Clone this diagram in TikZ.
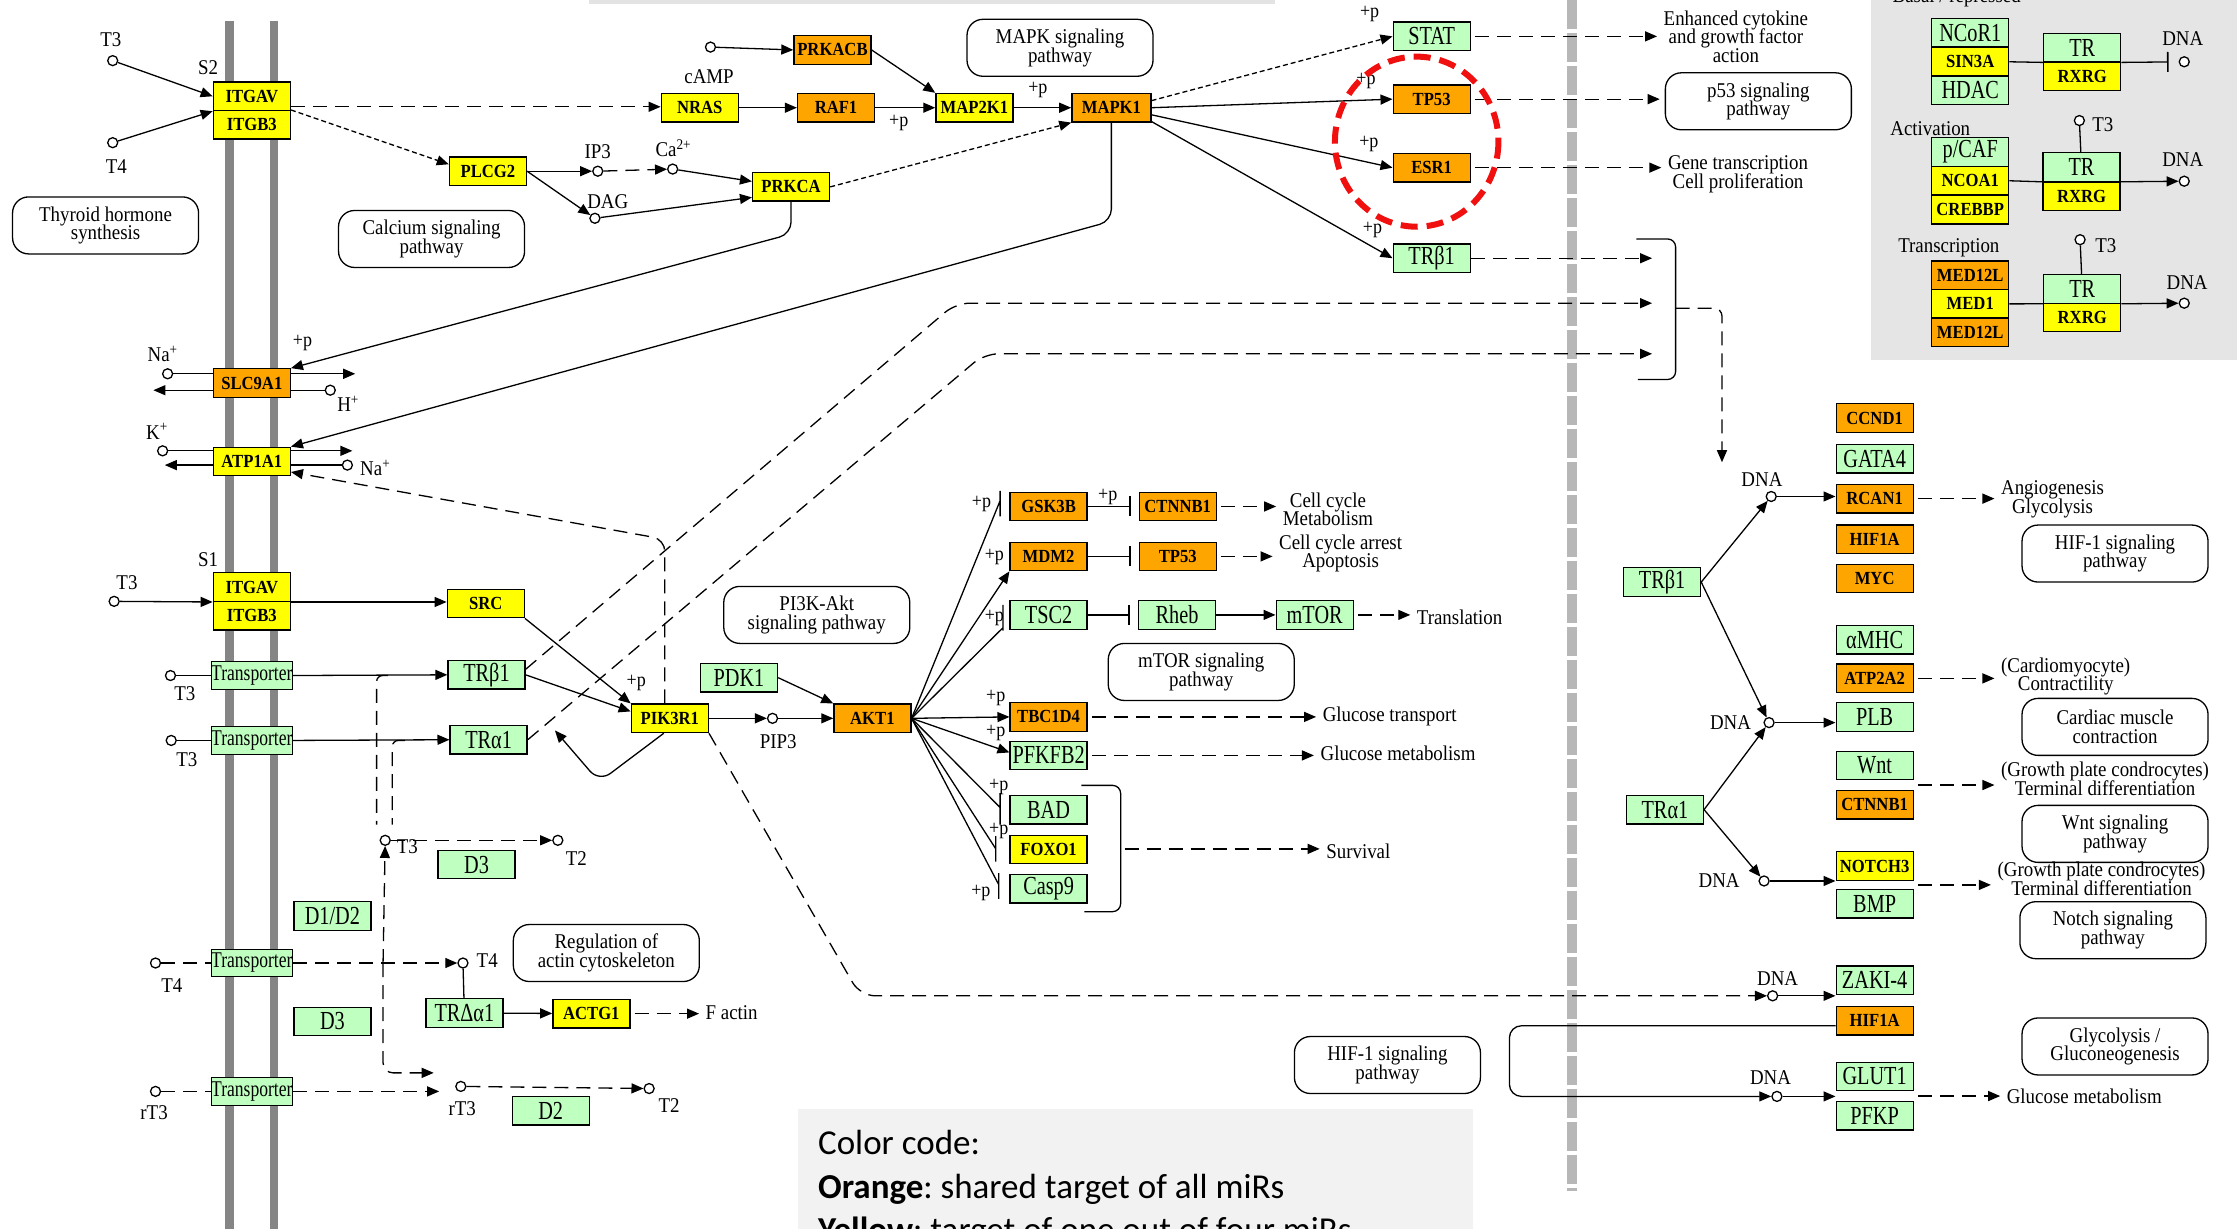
\documentclass[tikz,border=0pt]{standalone}
\usepackage{fontspec}
\setmainfont{Liberation Serif}[FakeStretch=0.9]
\newfontfamily\gfont{Liberation Serif}[FakeStretch=0.78]
\newfontfamily\codefont{Carlito}
\usetikzlibrary{arrows.meta,calc}

\definecolor{kora}{HTML}{FFA500}
\definecolor{kyel}{HTML}{FFFF00}
\definecolor{kgrn}{HTML}{BFFFBF}
\definecolor{kmem}{HTML}{858585}
\definecolor{kbar}{HTML}{B7B7B7}
\definecolor{kpanel}{HTML}{E5E5E5}
\definecolor{kcode}{HTML}{F2F2F2}
\definecolor{kstrip}{HTML}{E3E3E3}
\definecolor{kred}{HTML}{F01010}

\tikzset{
  gene/.style={draw, line width=1.3pt, minimum width=77pt, minimum height=28.5pt, inner sep=0pt},
  org/.style={gene, fill=kora, font=\fontsize{18.5}{18.5}\selectfont\bfseries},
  yel/.style={gene, fill=kyel, font=\fontsize{18.5}{18.5}\selectfont\bfseries},
  grn/.style={gene, fill=kgrn, font=\gfont\fontsize{26}{26}\selectfont},
  trsp/.style={grn, font=\gfont\fontsize{22.5}{22.5}\selectfont, minimum height=27.5pt},
  pw/.style={draw, line width=1.3pt, rounded corners=16pt, minimum width=186pt, minimum height=57pt, inner sep=0pt, align=center, font=\fontsize{21}{18.5}\selectfont},
  cpd/.style={circle, draw, fill=white, line width=1.3pt, minimum size=10pt, inner sep=0pt},
  lbl/.style={inner sep=1pt, align=center, font=\fontsize{21}{18.5}\selectfont},
  pp/.style={inner sep=0pt, font=\fontsize{20}{20}\selectfont},
  cc/.style={anchor=base west, inner sep=0pt, font=\codefont\fontsize{35}{35}\selectfont},
  dsh/.style={dash pattern=on 14pt off 8pt},
  fdsh/.style={dash pattern=on 5pt off 3pt},
  inh/.style={-{Bar[width=20pt,line width=1.6pt]}},
  outarr/.style={dsh, ->, shorten >=5pt, shorten <=4pt},
}

\begin{document}
\setlength{\lineskiplimit}{-6pt}
\frenchspacing
\begin{tikzpicture}[x=1.4267pt, y=-1.4267pt, line width=1.3pt, >={Triangle[length=12pt,width=10pt]}]
\useasboundingbox (0,0) rectangle (1568,861);

\fill[kstrip] (413,0) rectangle (894,2.5);
\fill[kpanel] (1311.5,-5) rectangle (1575,252);
\fill[kcode] (559,777.5) rectangle (1032.5,870);
\draw[kmem, line width=8.5pt] (161,14.5) -- (161,870);
\draw[kmem, line width=8.5pt] (192,14.5) -- (192,870);
\draw[kbar, line width=10pt, dash pattern=on 29pt off 4pt] (1102,0) -- (1102,835);

\node[pw] (thyrpw) at (74,158) {Thyroid hormone\\synthesis};
\node[pw] (calcpw) at (302.5,167.5) {Calcium signaling\\pathway};
\node[pw] (mapkpw) at (743,33.5) {MAPK signaling\\pathway};
\node[pw] (p53pw) at (1232.5,71) {p53 signaling\\pathway};
\node[pw] (pi3kpw) at (572.5,431) {PI3K-Akt\\signaling pathway};
\node[pw] (mtorpw) at (842,471) {mTOR signaling\\pathway};
\node[pw] (actinpw) at (425,668) {Regulation of\\actin cytoskeleton};
\node[pw] (hifpw1) at (972.5,746.5) {HIF-1 signaling\\pathway};
\node[pw] (hifpw2) at (1482.5,388) {HIF-1 signaling\\pathway};
\node[pw] (cardpw) at (1482.5,509.5) {Cardiac muscle\\contraction};
\node[pw] (wntpw) at (1482.5,584.5) {Wnt signaling\\pathway};
\node[pw] (notchpw) at (1481,652) {Notch signaling\\pathway};
\node[pw] (glycpw) at (1482.5,733.5) {Glycolysis /\\Gluconeogenesis};

\node[yel] (itgav2) at (176.5,67.5) {ITGAV};
\node[yel] (itgb2) at (176.5,87.5) {ITGB3};
\node[org] (slc) at (176.5,268.5) {SLC9A1};
\node[yel] (atp1) at (176.5,323.5) {ATP1A1};
\node[yel] (itgav1) at (176.5,411.5) {ITGAV};
\node[yel] (itgb1) at (176.5,431.5) {ITGB3};
\node[trsp] (trp1) at (176.5,473.5) {Transporter};
\node[trsp] (trp2) at (176.5,519) {Transporter};
\node[trsp] (trp3) at (176.5,675) {Transporter};
\node[trsp] (trp4) at (176.5,765) {Transporter};

\node[yel] (nras) at (490.5,75.5) {NRAS};
\node[org] (prkacb) at (583.5,35) {PRKACB};
\node[org] (raf) at (586,75.5) {RAF1};
\node[yel] (map2k) at (683,75.5) {MAP2K1};
\node[org, minimum width=79pt] (mapk) at (779,75.5) {MAPK1};
\node[yel] (plcg) at (342,120) {PLCG2};
\node[yel] (prkca) at (554.5,131) {PRKCA};
\node[grn] (stat) at (1003.5,25.5) {STAT};
\node[org] (p53a) at (1003.5,69.5) {TP53};
\node[org] (esr) at (1003.5,117.5) {ESR1};
\node[grn] (trb3) at (1003.5,181) {TRβ1};

\node[yel] (src) at (340.5,423) {SRC};
\node[grn] (trb1) at (341,473) {TRβ1};
\node[grn] (tra1) at (342.5,518.5) {TRα1};
\node[yel] (pik) at (469.5,503.5) {PIK3R1};
\node[grn] (pdk) at (518,475) {PDK1};
\node[org] (akt) at (611.5,503.5) {AKT1};
\node[org] (gsk) at (735,355) {GSK3B};
\node[org] (ctnb1) at (825.5,355) {CTNNB1};
\node[org] (mdm) at (735,390) {MDM2};
\node[org] (p53b) at (825.5,390) {TP53};
\node[grn] (tsc) at (735,431) {TSC2};
\node[grn] (rheb) at (825,431) {Rheb};
\node[grn] (mtor) at (921.5,431) {mTOR};
\node[org] (tbc) at (735,502.5) {TBC1D4};
\node[grn] (pfk) at (735,529.5) {PFKFB2};
\node[grn] (bad) at (735,567.5) {BAD};
\node[yel] (foxo) at (735,595.5) {FOXO1};
\node[grn] (casp) at (735,623) {Casp9};

\node[grn] (d3a) at (334,606) {D3};
\node[grn] (d12) at (233,642) {D1/D2};
\node[grn] (d3b) at (233,716) {D3};
\node[grn] (trd) at (325.5,710) {TRΔα1};
\node[yel] (actg) at (414.5,710.5) {ACTG1};
\node[grn] (d2) at (386,778.5) {D2};

\node[org] (ccnd) at (1314,293) {CCND1};
\node[grn] (gata) at (1314,321.5) {GATA4};
\node[org] (rcan) at (1314,349.5) {RCAN1};
\node[org] (hif1a) at (1314,378) {HIF1A};
\node[org] (myc) at (1314,405.5) {MYC};
\node[grn] (amhc) at (1314,448.5) {αMHC};
\node[org] (atp2) at (1314,475.5) {ATP2A2};
\node[grn] (plb) at (1314,502.5) {PLB};
\node[grn] (wnt) at (1314,536.5) {Wnt};
\node[org] (ctnb2) at (1314,564) {CTNNB1};
\node[yel] (notch) at (1314,607) {NOTCH3};
\node[grn] (bmp) at (1314,633.5) {BMP};
\node[grn] (zaki) at (1314,687) {ZAKI-4};
\node[org] (hif1b) at (1314,715.5) {HIF1A};
\node[grn] (glut) at (1314,754.5) {GLUT1};
\node[grn] (pfkp) at (1314,782) {PFKP};
\node[grn] (trb2) at (1165,408) {TRβ1};
\node[grn] (tra2) at (1167,567.5) {TRα1};

\node[grn] (ncor) at (1381,23) {NCoR1};
\node[yel] (sin3a) at (1381,43.3) {SIN3A};
\node[grn] (hdac) at (1381,63.3) {HDAC};
\node[grn] (tr1) at (1459.5,33.3) {TR};
\node[yel] (rxr1) at (1459.5,53.5) {RXRG};
\node[grn] (pcaf) at (1381,106.5) {p/CAF};
\node[yel] (ncoa) at (1381,126.7) {NCOA1};
\node[yel] (creb) at (1381,147) {CREBBP};
\node[grn] (tr2) at (1459,117) {TR};
\node[yel] (rxr2) at (1459,137.5) {RXRG};
\node[org] (med12a) at (1381,193) {MED12L};
\node[yel] (med1) at (1381,213) {MED1};
\node[org] (med12b) at (1381,233) {MED12L};
\node[grn] (tr3) at (1459.5,202.5) {TR};
\node[yel] (rxr3) at (1459.5,222.5) {RXRG};

\node[cpd] (t3a) at (79,42.5) {};
\node[cpd] (t4a) at (79,100) {};
\node[cpd] (camp) at (498,33) {};
\node[cpd] (ip3) at (419,120) {};
\node[cpd] (ca) at (471.5,118.5) {};
\node[cpd] (dag) at (417,153) {};
\node[cpd] (na1) at (117.5,262) {};
\node[cpd] (hh) at (231.5,273.5) {};
\node[cpd] (kk) at (114,316) {};
\node[cpd] (na2) at (243.5,326) {};
\node[cpd] (t3b) at (80,421.5) {};
\node[cpd] (t3c) at (119.5,473.5) {};
\node[cpd] (t3d) at (120,519) {};
\node[cpd] (t3e) at (270,589) {};
\node[cpd] (t2a) at (391,589) {};
\node[cpd] (t4b) at (109,675) {};
\node[cpd] (t4c) at (324.5,675) {};
\node[cpd] (rt3a) at (109,765) {};
\node[cpd] (rt3b) at (323,761.5) {};
\node[cpd] (t2b) at (455,763) {};
\node[cpd] (pip) at (541.5,503.5) {};
\node[cpd] (dna1) at (1241.5,348) {};
\node[cpd] (dna2) at (1240,506.5) {};
\node[cpd] (dna3) at (1236.5,617.5) {};
\node[cpd] (dna4) at (1242.5,698) {};
\node[cpd] (dna5) at (1245.5,768.5) {};
\node[cpd] (dnaP1) at (1531,43.3) {};
\node[cpd] (t3p2) at (1457.5,84.5) {};
\node[cpd] (dnaP2) at (1531,127) {};
\node[cpd] (t3p3) at (1458,168) {};
\node[cpd] (dnaP3) at (1531,212.5) {};

\node[lbl] (lt3a) at (77.7,28) {T3};
\node[lbl] (lt4a) at (81.5,116.5) {T4};
\node[lbl] (ls2) at (145.8,47.5) {S2};
\node[lbl] (ls1) at (145.8,392) {S1};
\node[lbl] (lcamp) at (497,54) {cAMP};
\node[lbl] (lip3) at (419,106) {IP3};
\node[lbl] (lca) at (472,104) {Ca\textsuperscript{2+}};
\node[lbl] (ldag) at (426,141.5) {DAG};
\node[lbl] (lna1) at (114,248) {Na\textsuperscript{+}};
\node[lbl] (lh) at (244,283) {H\textsuperscript{+}};
\node[lbl] (lk) at (110,302.5) {K\textsuperscript{+}};
\node[lbl] (lna2) at (263,328) {Na\textsuperscript{+}};
\node[lbl] (lt3b) at (89,408.5) {T3};
\node[lbl] (lt3c) at (129.5,486) {T3};
\node[lbl] (lt3d) at (131,532.5) {T3};
\node[lbl] (lt3e) at (285.5,593.5) {T3};
\node[lbl] (lt2a) at (404,601.5) {T2};
\node[lbl] (lt4b) at (120.5,691) {T4};
\node[lbl] (lt4c) at (341.5,673.5) {T4};
\node[lbl] (lrt3a) at (108,780) {rT3};
\node[lbl] (lrt3b) at (324,777) {rT3};
\node[lbl] (lt2b) at (469,775) {T2};
\node[lbl] (lpip) at (545.5,520) {PIP3};
\node[lbl] (ldna1) at (1235,336) {DNA};
\node[lbl] (ldna2) at (1213,506.5) {DNA};
\node[lbl] (ldna3) at (1205,617) {DNA};
\node[lbl] (ldna4) at (1246,686) {DNA};
\node[lbl] (ldna5) at (1241,755) {DNA};
\node[lbl, anchor=base] (lbasal) at (1371.5,1.5) {Basal / repressed};
\node[lbl] (ldp1) at (1530,27) {DNA};
\node[lbl] (lact) at (1353,90) {Activation};
\node[lbl] (lt3p2) at (1474,87.5) {T3};
\node[lbl] (ldp2) at (1530,112) {DNA};
\node[lbl] (ltrn) at (1366,174) {Transcription};
\node[lbl] (lt3p3) at (1476,172) {T3};
\node[lbl] (ldp3) at (1533,198) {DNA};

\node[pp] (pRaf) at (630,86.5) {+p};
\node[pp] (pMap) at (727.5,63) {+p};
\node[pp] (pSlc) at (212,240.5) {+p};
\node[pp] (pStat) at (960,9.5) {+p};
\node[pp] (pTp) at (957.5,57) {+p};
\node[pp] (pEsr) at (959.5,101) {+p};
\node[pp] (pTrb) at (962,161) {+p};
\node[pp] (pPik) at (446,478.5) {+p};
\node[pp] (pGsk) at (688,353) {+p};
\node[pp] (pCtn) at (776.5,348) {+p};
\node[pp] (pMdm) at (697,390.5) {+p};
\node[pp] (pTsc) at (697,433) {+p};
\node[pp] (pTbc) at (698,489) {+p};
\node[pp] (pPfk) at (698,514) {+p};
\node[pp] (pBad) at (700,551.5) {+p};
\node[pp] (pFox) at (700,582.5) {+p};
\node[pp] (pCas) at (687.5,626) {+p};

\node[lbl, anchor=west] (ocell) at (898,357) {Cell cycle\\Metabolism};
\node[lbl, anchor=west] (oarrest) at (895.5,388) {Cell cycle arrest\\Apoptosis};
\node[lbl, anchor=west] (otransl) at (992,432.5) {Translation};
\node[lbl, anchor=west] (ogtr) at (926,502.5) {Glucose transport};
\node[lbl, anchor=west] (ogmet) at (924.5,528) {Glucose metabolism};
\node[lbl, anchor=west] (osurv) at (928.5,596.5) {Survival};
\node[lbl, anchor=west] (ocyto) at (1165,25.5) {Enhanced cytokine\\and growth factor\\action};
\node[lbl, anchor=west] (ogene) at (1168,122) {Gene transcription\\Cell proliferation};
\node[lbl, anchor=west] (oang) at (1401.5,350) {Angiogenesis\\Glycolysis};
\node[lbl, anchor=west] (ocard) at (1401.5,474) {(Cardiomyocyte)\\Contractility};
\node[lbl, anchor=west] (ogrow1) at (1401.5,546) {(Growth plate condrocytes)\\Terminal differentiation};
\node[lbl, anchor=west] (ogrow2) at (1399,616) {(Growth plate condrocytes)\\Terminal differentiation};
\node[lbl, anchor=west] (ogmet2) at (1405.5,768.5) {Glucose metabolism};
\node[lbl, anchor=west] (ofact) at (493.5,709.5) {F actin};

\node[cc] (code1) at (573,809.5) {Color code:};
\node[cc] (code2) at (573,840) {\textbf{Orange}: shared target of all miRs};
\node[cc] (code3) at (573,870.5) {\textbf{Yellow}: target of one out of four miRs};

\coordinate (slcR) at (249,262);
\coordinate (slcL) at (107.5,273.5);
\coordinate (atpR) at (247,316);
\coordinate (atpL) at (115.5,326);
\coordinate (loopE) at (389,512);
\coordinate (brk1) at (1158,181);
\coordinate (brk2) at (1158,212.5);
\coordinate (brk3) at (1158,248);
\coordinate (dnaDown) at (1207,324);
\coordinate (gskT) at (701,351);
\coordinate (tscT) at (703,440);
\coordinate (badT) at (701,566);
\coordinate (foxT) at (698,595);
\coordinate (casT) at (700,620);
\coordinate (survS) at (785.5,595);
\coordinate (tb1) at (272,473.5);
\coordinate (ta1) at (284,519);
\coordinate (tb1E) at (264,578);
\coordinate (ta1E) at (275,578);
\coordinate (brT4) at (268.5,675);
\coordinate (rt3tip) at (304,752);
\coordinate (wntS) at ($(wnt.south east)!0.5!(ctnb2.north east)$);
\coordinate (notchS) at ($(notch.south east)!0.5!(bmp.north east)$);
\coordinate (glutS) at ($(glut.south east)!0.5!(pfkp.north east)$);

\draw[->] (t3a) -- (itgav2.west);
\draw[->] (t4a) -- (itgav2.south west);
\draw[dsh,->] (itgav2.-15) -- (nras.west |- itgav2.-15);
\draw[fdsh,->] (itgb2.north east) -- (plcg.170);
\draw[->] (camp) -- (prkacb.west);
\draw[->] (nras) -- (raf);
\draw[->] (raf) -- (map2k);
\draw[->] (map2k) -- (mapk);
\draw[->] (prkacb.east) -- (map2k.north west);
\draw[->] (plcg.east) -- (ip3);
\draw[dsh,->] (ip3) -- (ca);
\draw[->] (ca) -- (prkca.172);
\draw[->] (plcg.east) -- (dag);
\draw[->] (dag) -- (prkca.-165);
\draw[fdsh,->] (prkca.east) -- (mapk.south west);
\draw[->,rounded corners=12pt] (prkca.south) -- (554.5,164) -- (slc.north east);
\draw[->,rounded corners=12pt] (mapk.south) -- (779,155) -- (atp1.north east);
\draw[fdsh,->] (mapk.10) -- (stat.west);
\draw[->] (mapk.east) -- (p53a.west);
\draw[->] (mapk.-10) -- (esr.west);
\draw[->] (mapk.-19) -- (trb3.west);

\draw (na1) -- (na1 -| slc.west);
\draw[->] (slc.east |- na1) -- (slcR);
\draw[->] (slc.west |- hh) -- (slcL);
\draw (hh) -- (hh -| slc.east);
\draw (kk) -- (kk -| atp1.west);
\draw[->] (atp1.east |- kk) -- (atpR);
\draw[->] (atp1.west |- na2) -- (atpL);
\draw (na2) -- (na2 -| atp1.east);
\draw[dsh,->,rounded corners=12pt] ([xshift=-5pt]pik.north) -- (466,378) -- (atp1.-15);

\draw[->] (t3b) -- (itgav1.south west);
\draw[->] (itgav1.south east) -- (src.west |- itgav1.south east);
\draw[->] (src.south east) -- (pik.north west);
\draw (t3c) -- (trp1.west);
\draw[->] (trp1.east) -- (trb1.west);
\draw (t3d) -- (trp2.west);
\draw[->] (trp2.east) -- (tra1.west);
\draw[->] (trb1.east) -- (pik.170);
\draw[dsh,->,rounded corners=14pt] (trb1.8) -- (670,212.5) -- (brk2);
\draw[dsh,->,rounded corners=14pt] (tra1.east) -- (690,248) -- (brk3);
\draw[->,rounded corners=14pt] ([xshift=-6pt]pik.south) -- (420,548) -- (loopE);
\draw[->] (pik) -- (pip);
\draw[->] (pip) -- (akt);
\draw[->] (pdk.east) -- (akt.north west);
\draw[dsh,->,rounded corners=15pt] (pik.south east) -- (603,698) -- (dna4);

\draw (akt.east) -- (gskT) ++(0,-7) -- ++(0,18);
\draw[->] (akt.east) -- (mdm.south west);
\draw (akt.east) -- (tscT) ++(0,-16) -- ++(0,18);
\draw[->] (akt.east) -- (tbc.west);
\draw[->] (akt.east) -- ([yshift=3pt]pfk.west);
\draw (akt.east) -- (badT) ++(0,-10) -- ++(0,22);
\draw (akt.east) -- (foxT) ++(0,-9) -- ++(0,18);
\draw (akt.east) -- (casT) ++(0,-8) -- ++(0,18);
\draw[inh, shorten >=8pt] (gsk) -- (ctnb1);
\draw[inh, shorten >=8pt] (mdm) -- (p53b);
\draw[inh, shorten >=8pt] (tsc) -- (rheb);
\draw[->] (rheb) -- (mtor);
\draw[outarr] (ctnb1.east) -- (ctnb1.east -| ocell.west);
\draw[outarr] (p53b.east) -- (p53b.east -| oarrest.west);
\draw[outarr] (mtor.east) -- (mtor.east -| otransl.west);
\draw[outarr] (tbc.east) -- (tbc.east -| ogtr.west);
\draw[outarr] (pfk.east) -- (pfk.east -| ogmet.west);
\draw[rounded corners=8pt] (758,550.5) -- (785.5,550.5) -- (785.5,639) -- (760,639);
\draw[outarr] (survS) -- (survS -| osurv.west);

\draw[outarr] (stat.east) -- (stat.east -| ocyto.west);
\draw[outarr] (p53a.east) -- (p53a.east -| p53pw.west);
\draw[outarr] (esr.east) -- (esr.east -| ogene.west);
\draw[dsh,->] (trb3.east) -- (brk1);
\draw[rounded corners=8pt] (1147,167.5) -- (1174.5,167.5) -- (1174.5,266) -- (1148,266);
\draw[dsh,->,rounded corners=8pt] (1174.5,216) -- (1207,216) -- (dnaDown);

\draw[->] (trb2.east) -- (dna1);
\draw[->] (trb2.east) -- (dna2);
\draw[->] (tra2.east) -- (dna2);
\draw[->] (tra2.east) -- (dna3);
\draw[->] (dna1) -- (dna1 -| rcan.west);
\draw[->] (dna2) -- (dna2 -| plb.west);
\draw[->] (dna3) -- (dna3 -| notch.west);
\draw[->] (dna4) -- (dna4 -| zaki.west);
\draw[->,rounded corners=12pt] ([yshift=-5pt]hif1b.west) -| (1058,768.5) -- (dna5);
\draw[->] (dna5) -- (dna5 -| glut.west);
\draw[outarr] (rcan.east) -- (rcan.east -| oang.west);
\draw[outarr] (atp2.east) -- (atp2.east -| ocard.west);
\draw[outarr] (wntS) -- (wntS -| ogrow1.west);
\draw[outarr] (notchS) -- (notchS -| ogrow2.west);
\draw[outarr] (glutS) -- (glutS -| ogmet2.west);

\draw[dsh] (t4b) -- (trp3.west);
\draw[dsh,->] (trp3.east) -- (t4c);
\draw (t4c) -- (trd);
\draw[->] (trd) -- (actg);
\draw[outarr] (actg.east) -- (actg.east -| ofact.west);
\draw[dsh] (rt3a) -- (trp4.west);
\draw[dsh,->,shorten >=16pt] (trp4.east) -- (trp4.east -| rt3b.west);
\draw[dsh,->] (rt3b) -- (t2b);
\draw[dsh,->] (t3e) -- (t2a);
\draw[dsh,rounded corners=6pt] (tb1) -| (tb1E);
\draw[dsh,rounded corners=6pt] (ta1) -| (ta1E);
\draw[dsh,->] (brT4) -- (t3e);
\draw[dsh,->,rounded corners=10pt] (brT4) |- (rt3tip);

\draw (sin3a.east) -- (tr1.south west);
\draw[inh, shorten >=10pt] (tr1.south east) -- (dnaP1);
\draw (t3p2) -- (tr2);
\draw (ncoa.east) -- (tr2.south west);
\draw[->] (tr2.south east) -- (dnaP2);
\draw (t3p3) -- (tr3);
\draw (med1.east) -- (tr3.south west);
\draw[->] (tr3.south east) -- (dnaP3);

\draw[kred, line width=6pt, dash pattern=on 17pt off 9pt] (993,99.3) ellipse [x radius=57.3, y radius=59.6];
\end{tikzpicture}
\end{document}
